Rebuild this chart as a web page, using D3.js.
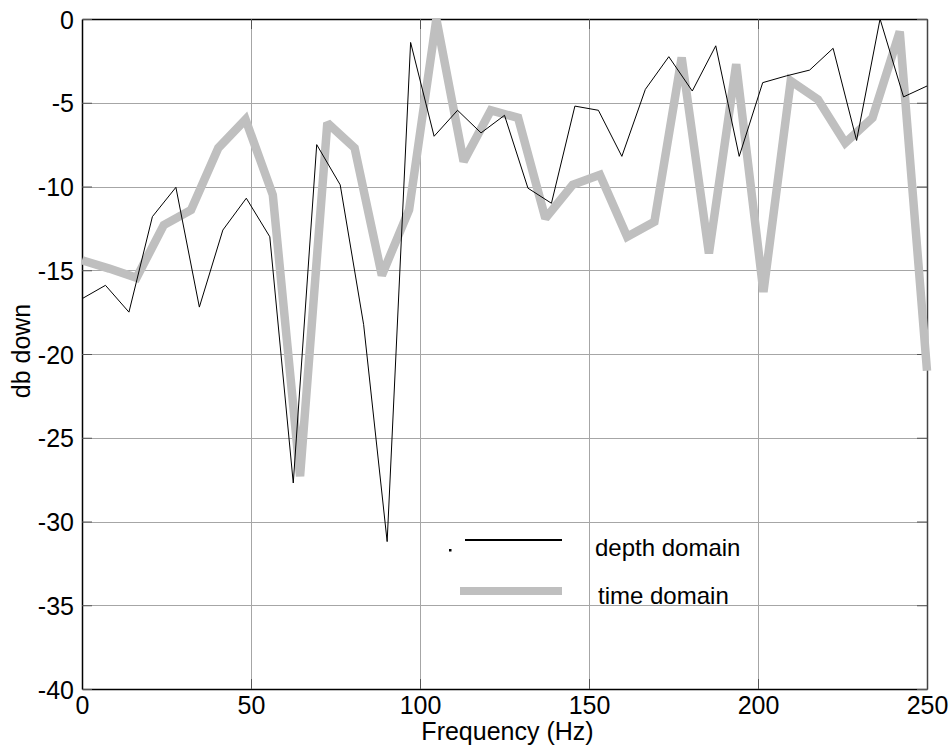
<!DOCTYPE html>
<html lang="en">
  <head>
    <meta charset="utf-8" />
    <style>
      body { margin: 0; background: #fff; }
      text { font-family: "Liberation Sans", Arial, sans-serif; fill: #000; }
    </style>
  </head>
  <body>
    <script src="https://d3js.org/d3.v7.min.js"></script>
    <script>
      // depth domain samples (thin black line)
      var depthFreq = [0, 6.94, 13.89, 20.83, 27.78, 34.72, 41.67, 48.61, 55.56, 62.5,
        69.44, 76.39, 83.33, 90.28, 97.22, 104.17, 111.11, 118.06, 125, 131.94,
        138.89, 145.83, 152.78, 159.72, 166.67, 173.61, 180.56, 187.5, 194.44, 201.39,
        208.33, 215.28, 222.22, 229.17, 236.11, 243.06, 250];
      var depthDb = [-16.7, -15.9, -17.5, -11.8, -10.05, -17.2, -12.6, -10.7, -13.0, -27.7,
        -7.5, -9.9, -18.25, -31.2, -1.4, -7.0, -5.45, -6.8, -5.75, -10.1,
        -11.0, -5.2, -5.45, -8.2, -4.2, -2.25, -4.3, -1.6, -8.2, -3.8,
        -3.4, -3.05, -1.75, -7.25, 0, -4.65, -4.0];

      // time domain samples (thick grey line)
      var timeFreq = [0, 8.06, 16.13, 24.19, 32.26, 40.32, 48.39, 56.45, 64.52, 72.58,
        80.65, 88.71, 96.77, 104.84, 112.9, 120.97, 129.03, 137.1, 145.16, 153.23,
        161.29, 169.35, 177.42, 185.48, 193.55, 201.61, 209.68, 217.74, 225.81, 233.87,
        241.94, 250];
      var timeDb = [-14.4, -14.9, -15.45, -12.3, -11.4, -7.7, -6.0, -10.5, -27.3, -6.2,
        -7.7, -15.3, -11.4, 0, -8.5, -5.45, -5.9, -11.9, -9.9, -9.3,
        -13.0, -12.1, -2.3, -14.0, -2.7, -16.3, -3.7, -4.8, -7.4, -5.9,
        -0.75, -21.0];

      var xTicks = [0, 50, 100, 150, 200, 250];
      var yTicks = [0, -5, -10, -15, -20, -25, -30, -35, -40];
      var legendLabels = ["depth domain", "time domain"];

      var width = 952, height = 750;
      var mLeft = 82, mRight = 927, mTop = 19, mBottom = 689;

      var svg = d3.select("body").append("svg")
        .attr("width", width)
        .attr("height", height);

      var x = d3.scaleLinear().domain([0, 250]).range([mLeft, mRight]);
      var y = d3.scaleLinear().domain([-40, 0]).range([mBottom, mTop]);

      // grid
      svg.append("g").selectAll("line")
        .data(xTicks.slice(1, -1)).join("line")
        .attr("x1", function (d) { return Math.round(x(d)) + 0.5; })
        .attr("x2", function (d) { return Math.round(x(d)) + 0.5; })
        .attr("y1", mTop).attr("y2", mBottom)
        .attr("stroke", "#a6a6a6").attr("stroke-width", 1);
      svg.append("g").selectAll("line")
        .data(yTicks.slice(1, -1)).join("line")
        .attr("y1", function (d) { return Math.round(y(d)) + 0.5; })
        .attr("y2", function (d) { return Math.round(y(d)) + 0.5; })
        .attr("x1", mLeft).attr("x2", mRight)
        .attr("stroke", "#a6a6a6").attr("stroke-width", 1);

      // axes (box style, ticks pointing inward)
      var xAxisB = d3.axisBottom(x).tickValues(xTicks).tickSizeInner(-10).tickSizeOuter(0).tickPadding(7);
      var xAxisT = d3.axisTop(x).tickValues(xTicks).tickSizeInner(-10).tickSizeOuter(0).tickFormat("");
      var yAxisL = d3.axisLeft(y).tickValues(yTicks).tickSizeInner(-10).tickSizeOuter(0).tickPadding(8)
        .tickFormat(function (d) { return d === 0 ? "0" : "-" + Math.abs(d); });
      var yAxisR = d3.axisRight(y).tickValues(yTicks).tickSizeInner(-10).tickSizeOuter(0).tickFormat("");

      function styleAxis(g, col) {
        g.select(".domain").attr("stroke", col).attr("stroke-width", 1.5);
        g.selectAll(".tick line").attr("stroke", "#555");
        g.selectAll(".tick text").style("font-size", "25px")
          .style("font-family", "Liberation Sans, Arial, sans-serif").attr("fill", "#000");
      }

      svg.append("g").attr("transform", "translate(0," + mBottom + ")").call(xAxisB)
        .call(function (g) { styleAxis(g, "#000"); });
      svg.append("g").attr("transform", "translate(0," + mTop + ")").call(xAxisT)
        .call(function (g) { styleAxis(g, "#000"); });
      svg.append("g").attr("transform", "translate(" + mLeft + ",0)").call(yAxisL)
        .call(function (g) { styleAxis(g, "#000"); g.selectAll(".tick text").attr("dy", "0.36em"); });
      svg.append("g").attr("transform", "translate(" + mRight + ",0)").call(yAxisR)
        .call(function (g) { styleAxis(g, "#444"); });

      // series
      var line = d3.line()
        .x(function (d) { return x(d[0]); })
        .y(function (d) { return y(d[1]); });

      svg.append("path")
        .datum(d3.zip(timeFreq, timeDb))
        .attr("d", line)
        .attr("fill", "none")
        .attr("stroke", "#bfbfbf")
        .attr("stroke-width", 8.5)
        .attr("stroke-linejoin", "miter")
        .attr("stroke-miterlimit", 2);

      svg.append("path")
        .datum(d3.zip(depthFreq, depthDb))
        .attr("d", line)
        .attr("fill", "none")
        .attr("stroke", "#000")
        .attr("stroke-width", 1);

      // legend
      var leg = svg.append("g");
      leg.append("rect").attr("x", 449).attr("y", 549).attr("width", 2.5).attr("height", 2.5).attr("fill", "#000");
      leg.append("line").attr("x1", 465).attr("x2", 562).attr("y1", 540).attr("y2", 540)
        .attr("stroke", "#000").attr("stroke-width", 2);
      leg.append("line").attr("x1", 460).attr("x2", 562).attr("y1", 591).attr("y2", 591)
        .attr("stroke", "#bfbfbf").attr("stroke-width", 8);
      leg.append("text").attr("x", 595).attr("y", 556).style("font-size", "24px").text(legendLabels[0]);
      leg.append("text").attr("x", 598).attr("y", 604).style("font-size", "24px").text(legendLabels[1]);

      // axis titles
      svg.append("text")
        .attr("x", (mLeft + mRight) / 2 + 3)
        .attr("y", 740)
        .attr("text-anchor", "middle")
        .style("font-size", "25px")
        .text("Frequency  (Hz)");
      svg.append("text")
        .attr("transform", "translate(30,351) rotate(-90)")
        .attr("text-anchor", "middle")
        .style("font-size", "25px")
        .text("db down");
    </script>
  </body>
</html>
